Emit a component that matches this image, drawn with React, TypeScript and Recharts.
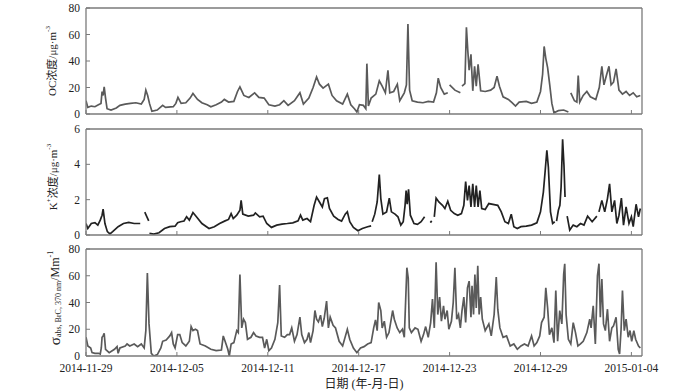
import React from 'react';
import { LineChart, Line, XAxis, YAxis } from 'recharts';

// x positions are days since 2014-11-29 00:00
const tickDays = [0, 6, 12, 18, 24, 30, 36];
const tickLabels = ['2014-11-29', '2014-12-05', '2014-12-11', '2014-12-17', '2014-12-23', '2014-12-29', '2015-01-04'];
const dayMax = 36.7;

const ocTicks = [0, 20, 40, 60, 80];
const kTicks = [0, 2, 4, 6];
const brcTicks = [0, 20, 40, 60, 80];

// OC concentration (μg·m-3): [day, value]
const ocPoints: [number, number | null][] = [
  [0, 10], [0.12, 5], [0.35, 6], [0.59, 5.5], [0.82, 7], [0.99, 8], [1.06, 17], [1.13, 14], [1.2, 20.5], [1.29, 12],
  [1.39, 4], [1.65, 3], [2.0, 4.5], [2.24, 6.5], [2.59, 7.5], [2.94, 8], [3.29, 8.5], [3.65, 7.5], [3.84, 11], [3.95, 18],
  [4.07, 14], [4.19, 8], [4.35, 2], [4.7, 3], [5.06, 6.5], [5.25, 5], [5.76, 5.5], [5.93, 8], [6.07, 12.5], [6.28, 8],
  [6.59, 8.5], [6.87, 12], [7.06, 15.5], [7.36, 11], [7.65, 8.5], [8.0, 7], [8.24, 5.5], [8.59, 7], [8.94, 9], [9.13, 11],
  [9.41, 9], [9.76, 9.5], [10.0, 17], [10.16, 20.5], [10.42, 14], [10.75, 12.5], [11.13, 16], [11.41, 12.5], [11.76, 12], [12.07, 7],
  [12.47, 6], [12.78, 7], [13.06, 10], [13.34, 6.5], [13.76, 10], [14.12, 16], [14.35, 7.5], [14.71, 12], [14.99, 20], [15.22, 28],
  [15.41, 22.5], [15.65, 19.5], [16.0, 22.5], [16.24, 14], [16.54, 10], [16.94, 7.5], [17.25, 15], [17.48, 7], [17.72, 4], [17.88, 1.5],
  [18.05, 7], [18.31, 6.5], [18.47, 4], [18.54, 38], [18.64, 6], [18.82, 12], [19.13, 15], [19.36, 25], [19.55, 21], [19.76, 16],
  [19.93, 33], [20.05, 16], [20.31, 17], [20.55, 22.5], [20.71, 10], [21.01, 16], [21.15, 22], [21.25, 68], [21.36, 18], [21.53, 10],
  [21.88, 9], [22.24, 8.5], [22.59, 9.5], [22.94, 9], [23.13, 16], [23.25, 27], [23.41, 20], [23.65, 15], [23.88, 16], [23.94, null],
  [24.0, 22], [24.35, 18], [24.71, 16], [24.76, null], [24.82, 21], [25.01, 23], [25.11, 65.5], [25.2, 48], [25.29, 33], [25.41, 45],
  [25.53, 17.5], [25.65, 36], [25.76, 21], [25.88, 37.5], [26.05, 17.5], [26.35, 17], [26.71, 18], [26.94, 20], [27.13, 28.5], [27.29, 21],
  [27.53, 13], [27.88, 11], [28.12, 8.5], [28.35, 6], [28.59, 9], [29.06, 9.5], [29.41, 8], [29.76, 9], [30.0, 17], [30.14, 30],
  [30.24, 51], [30.35, 42], [30.47, 35], [30.61, 22], [30.75, 8], [30.89, 1], [31.18, 2.5], [31.53, 3], [31.84, 1.5], [31.92, null],
  [32.0, 16], [32.24, 10], [32.4, 9], [32.49, 29], [32.59, 9], [32.82, 14], [33.06, 17], [33.29, 13], [33.65, 11], [33.88, 20],
  [34.05, 36], [34.19, 22], [34.35, 29], [34.52, 36], [34.66, 22], [34.82, 24], [34.99, 34], [35.18, 18], [35.41, 15], [35.65, 17],
  [35.88, 14], [36.12, 16], [36.35, 13], [36.59, 14],
];

// K+ concentration (μg·m-3): [day, value]
const kPoints: [number, number | null][] = [
  [0, 0.65], [0.12, 0.37], [0.35, 0.65], [0.59, 0.7], [0.78, 0.56], [0.94, 0.84], [1.06, 1.12], [1.13, 1.46], [1.25, 0.65], [1.41, 0.19],
  [1.58, 0.06], [1.76, 0.19], [2.12, 0.47], [2.47, 0.65], [2.82, 0.71], [3.18, 0.65], [3.58, 0.65], [3.7, null], [3.88, 1.3], [4.02, 1.03],
  [4.14, 0.8], [4.17, null], [4.19, 0.1], [4.47, 0.05], [4.82, 0.13], [5.18, 0.37], [5.53, 0.47], [5.88, 0.5], [6.05, 0.69], [6.24, 0.75],
  [6.47, 0.79], [6.64, 1.03], [6.82, 0.84], [7.06, 1.27], [7.29, 1.03], [7.65, 0.65], [8.12, 0.37], [8.47, 0.47], [8.82, 0.65], [9.18, 0.8],
  [9.41, 0.88], [9.58, 1.21], [9.72, 0.93], [9.95, 1.12], [10.16, 1.4], [10.24, 1.96], [10.35, 1.18], [10.71, 1.07], [11.06, 1.12], [11.18, 1.25],
  [11.46, 1.03], [11.69, 1.07], [11.93, 0.65], [12.24, 0.43], [12.59, 0.56], [12.94, 0.62], [13.29, 0.65], [13.65, 0.69], [14.0, 0.8], [14.16, 1.12],
  [14.31, 0.84], [14.59, 0.93], [14.82, 0.75], [15.06, 1.68], [15.22, 2.15], [15.41, 1.87], [15.6, 1.59], [15.74, 2.06], [15.93, 2.11], [16.07, 1.5],
  [16.35, 1.07], [16.64, 0.88], [16.87, 0.79], [17.11, 1.18], [17.25, 1.31], [17.41, 0.75], [17.65, 0.43], [17.95, 0.24], [18.24, 0.37], [18.59, 0.47],
  [18.82, 0.52], [18.86, null], [18.89, 0.75], [19.06, 1.18], [19.22, 1.87], [19.36, 3.42], [19.46, 2.06], [19.6, 1.18], [19.84, 1.31], [20.02, 2.09],
  [20.16, 1.31], [20.4, 1.18], [20.59, 1.03], [20.78, 0.56], [20.94, 0.75], [21.06, 1.68], [21.13, 2.52], [21.2, 1.74], [21.29, 2.58], [21.41, 1.12],
  [21.65, 0.65], [21.88, 0.6], [22.12, 0.75], [22.35, 1.03], [22.6, null], [22.73, 0.7], [22.82, 0.8], [22.88, null], [22.99, 1.03], [23.11, 2.09],
  [23.29, 1.87], [23.53, 1.68], [23.69, 1.5], [23.88, 1.91], [24.07, 1.4], [24.31, 1.21], [24.54, 1.12], [24.78, 1.21], [24.94, 1.68], [25.06, 3.03],
  [25.18, 1.96], [25.29, 2.8], [25.41, 1.59], [25.53, 2.9], [25.65, 1.59], [25.76, 2.8], [25.88, 1.59], [26.0, 2.52], [26.12, 1.5], [26.35, 1.44],
  [26.59, 1.78], [26.94, 1.72], [27.18, 1.68], [27.41, 1.31], [27.65, 0.75], [27.88, 0.65], [28.07, 1.18], [28.24, 0.47], [28.47, 0.37], [28.71, 0.47],
  [29.06, 0.5], [29.41, 0.56], [29.76, 0.69], [30.0, 1.31], [30.19, 2.43], [30.31, 3.64], [30.42, 4.8], [30.52, 3.83], [30.66, 1.31], [30.8, 0.65],
  [30.94, 0.75], [30.98, null], [31.06, 0.79], [31.18, 1.4], [31.28, 1.68], [31.36, 2.71], [31.46, 5.42], [31.55, 3.93], [31.62, 2.15], [31.7, null],
  [31.76, 1.07], [31.93, 0.28], [32.16, 0.56], [32.4, 0.47], [32.64, 0.65], [32.87, 0.56], [33.11, 1.07], [33.41, 0.75], [33.72, 1.07], [33.78, null],
  [33.86, 1.31], [34.05, 1.96], [34.24, 1.31], [34.42, 2.06], [34.56, 2.9], [34.71, 1.31], [34.89, 1.96], [35.04, 0.65], [35.18, 1.12], [35.34, 2.09],
  [35.48, 0.56], [35.65, 1.59], [35.84, 0.65], [36.0, 1.03], [36.12, 0.47], [36.31, 1.74], [36.47, 1.03], [36.59, 1.5],
];

// σabs,BrC,370nm (Mm-1): [day, value]
const brcPoints: [number, number | null][] = [
  [0, 14], [0.12, 7.5], [0.31, 6], [0.4, 2.5], [0.59, 2], [0.82, 2], [0.94, 1.5], [1.01, 6], [1.06, 14], [1.13, 15],
  [1.2, 17], [1.29, 5], [1.53, 2.5], [1.88, 5], [2.05, 7], [2.12, 2], [2.24, 6], [2.59, 7.5], [2.71, 9], [2.89, 7.5],
  [3.18, 9], [3.41, 7], [3.65, 9], [3.84, 6], [3.95, 19], [4.05, 62], [4.16, 24], [4.31, 2], [4.47, 0], [4.71, 1],
  [4.94, 6], [5.06, 11], [5.29, 12], [5.53, 15], [5.65, 17.5], [5.76, 9], [5.88, 6], [6.05, 16], [6.19, 16], [6.35, 10],
  [6.59, 7.5], [6.82, 11], [6.94, 22], [7.06, 19], [7.22, 20], [7.36, 19], [7.53, 9], [7.88, 7.5], [8.24, 5], [8.59, 4],
  [8.94, 4.5], [9.06, 15], [9.18, 11], [9.36, 5], [9.46, 0], [9.58, 9], [9.76, 10], [9.95, 19], [10.05, 17.5], [10.16, 61],
  [10.28, 21], [10.4, 27.5], [10.52, 25], [10.66, 12.5], [10.89, 14], [11.06, 17.5], [11.22, 15], [11.46, 14], [11.65, 14], [11.79, 6],
  [11.93, 12.5], [12.07, 4], [12.24, 6], [12.47, 12.5], [12.66, 25], [12.78, 53], [12.89, 15], [13.11, 14], [13.29, 16], [13.44, 16],
  [13.58, 21], [13.76, 11], [13.93, 16], [14.12, 29], [14.24, 16], [14.42, 10], [14.59, 12.5], [14.71, 17.5], [14.82, 10], [14.99, 19],
  [15.11, 34], [15.22, 27.5], [15.34, 25.5], [15.48, 30.5], [15.6, 22], [15.72, 28], [15.88, 41], [16.0, 21], [16.12, 29], [16.31, 23],
  [16.47, 21], [16.71, 11], [16.94, 7.5], [17.25, 20], [17.41, 12.5], [17.65, 6], [17.88, 2.5], [18.12, 6], [18.35, 7], [18.59, 9],
  [18.82, 10], [18.99, 21], [19.11, 27], [19.22, 19], [19.32, 40], [19.46, 34], [19.55, 21], [19.69, 26], [19.84, 14], [20.0, 17.5],
  [20.24, 34], [20.35, 27.5], [20.54, 21], [20.71, 17.5], [20.89, 20], [21.01, 14], [21.18, 66], [21.27, 58], [21.34, 21], [21.48, 17.5],
  [21.72, 21], [21.91, 20], [22.12, 11], [22.28, 16], [22.42, 22], [22.59, 14], [22.75, 25], [22.87, 42.5], [22.99, 21], [23.11, 70],
  [23.22, 31], [23.34, 44], [23.46, 26], [23.6, 37.5], [23.69, 27.5], [23.84, 34], [23.95, 20], [24.12, 26], [24.24, 40], [24.35, 66],
  [24.47, 27.5], [24.59, 31], [24.71, 21], [24.82, 34], [24.94, 44], [25.06, 25], [25.18, 51], [25.29, 56], [25.41, 29], [25.48, 52.5],
  [25.58, 31], [25.67, 61], [25.76, 36], [25.86, 67.5], [25.95, 31], [26.05, 44], [26.16, 27.5], [26.35, 19], [26.59, 24], [26.75, 15],
  [26.94, 31], [27.08, 59], [27.18, 35], [27.32, 21], [27.53, 14], [27.76, 15], [28.0, 7.5], [28.24, 9], [28.47, 5], [28.71, 7.5],
  [28.94, 9], [29.18, 7.5], [29.41, 15], [29.58, 7.5], [29.76, 10], [29.95, 15], [30.07, 25], [30.24, 29], [30.35, 51], [30.47, 36],
  [30.59, 16], [30.75, 21], [30.89, 10], [31.01, 49], [31.13, 11], [31.27, 34], [31.41, 24], [31.53, 61], [31.6, 69], [31.69, 31],
  [31.84, 12.5], [32.0, 9], [32.16, 25], [32.31, 17.5], [32.47, 7.5], [32.64, 9], [32.82, 11], [33.06, 17.5], [33.25, 27.5], [33.34, 21],
  [33.48, 37.5], [33.62, 9], [33.76, 60], [33.86, 69], [33.95, 29], [34.05, 57.5], [34.16, 24], [34.28, 19], [34.42, 35], [34.56, 11],
  [34.71, 21], [34.82, 22.5], [34.99, 29], [35.13, 5], [35.22, 1.5], [35.32, 20], [35.41, 49], [35.53, 19], [35.65, 27.5], [35.79, 14],
  [35.91, 19], [36.02, 11], [36.16, 19], [36.28, 12.5], [36.47, 7.5], [36.59, 6],
];

const toRows = (pts: [number, number | null][]) => pts.map(([d, v]) => ({ d, v }));

const frame = '#7a7a7a';
const tickFont = "'Liberation Serif', 'Times New Roman', serif";
const labelFont = "'Liberation Serif', 'Noto Sans CJK SC', serif";

type PanelProps = {
  top: number;
  height: number;
  bottom: number;
  points: [number, number | null][];
  yMax: number;
  yTicks: number[];
  color: string;
  showX: boolean;
};

function Panel({ top, height, bottom, points, yMax, yTicks, color, showX }: PanelProps) {
  return (
    <div style={{ position: 'absolute', left: 0, top, width: 700, height }}>
      <LineChart width={700} height={height} data={toRows(points)} margin={{ top: 7, right: 57, bottom: bottom - 1, left: 0 }}>
        <XAxis
          dataKey="d"
          type="number"
          domain={[0, dayMax]}
          ticks={tickDays}
          interval={0}
          allowDataOverflow
          height={1}
          tickSize={-4}
          tickMargin={12}
          axisLine={{ stroke: frame, strokeWidth: 1.3 }}
          tickLine={{ stroke: frame, strokeWidth: 1 }}
          tick={{ fontSize: 11.5, fill: '#222', fontFamily: tickFont }}
          tickFormatter={(v: number) => (showX ? tickLabels[tickDays.indexOf(v)] ?? '' : '')}
        />
        <XAxis
          xAxisId="top"
          orientation="top"
          dataKey="d"
          type="number"
          domain={[0, dayMax]}
          ticks={tickDays}
          allowDataOverflow
          height={1}
          tick={false}
          tickLine={false}
          axisLine={{ stroke: frame, strokeWidth: 1.3 }}
        />
        <YAxis
          type="number"
          domain={[0, yMax]}
          ticks={yTicks}
          interval={0}
          allowDataOverflow
          width={86}
          tickSize={-4}
          tickMargin={10}
          axisLine={{ stroke: frame, strokeWidth: 1.3 }}
          tickLine={{ stroke: frame, strokeWidth: 1 }}
          tick={{ fontSize: 11.5, fill: '#222', fontFamily: tickFont }}
        />
        <YAxis
          yAxisId="right"
          orientation="right"
          type="number"
          domain={[0, yMax]}
          ticks={yTicks}
          width={1}
          tick={false}
          tickLine={false}
          axisLine={{ stroke: frame, strokeWidth: 1.3 }}
        />
        <Line
          type="linear"
          dataKey="v"
          stroke={color}
          strokeWidth={1.7}
          dot={false}
          activeDot={false}
          connectNulls={false}
          isAnimationActive={false}
        />
      </LineChart>
    </div>
  );
}

export default function App() {
  return (
    <div style={{ position: 'absolute', left: 0, top: 0, width: 700, height: 391, background: '#fff', overflow: 'hidden' }}>
      <Panel top={0} height={120} bottom={6} points={ocPoints} yMax={80} yTicks={ocTicks} color="#5a5a5a" showX={false} />
      <Panel top={121} height={120} bottom={6} points={kPoints} yMax={6} yTicks={kTicks} color="#222222" showX={false} />
      <Panel top={241} height={150} bottom={35} points={brcPoints} yMax={80} yTicks={brcTicks} color="#5a5a5a" showX={true} />
      <svg width={700} height={391} style={{ position: 'absolute', left: 0, top: 0, pointerEvents: 'none' }}>
        <text transform="translate(52,61) rotate(-90)" textAnchor="middle" dominantBaseline="central" fontSize={11} fill="#222" fontFamily={labelFont}>
          OC浓度/μg·m<tspan dy={-4} fontSize={7}>-3</tspan>
        </text>
        <text transform="translate(53,177) rotate(-90)" textAnchor="middle" dominantBaseline="central" fontSize={11} fill="#222" fontFamily={labelFont}>
          K<tspan dy={-4} fontSize={7}>+</tspan><tspan dy={4}>浓度/μg·m</tspan><tspan dy={-4} fontSize={7}>-3</tspan>
        </text>
        <text transform="translate(55,298) rotate(-90)" textAnchor="middle" dominantBaseline="central" fontSize={12} fill="#222" fontFamily={labelFont}>
          <tspan fontSize={15}>σ</tspan><tspan dy={3} fontSize={8}>abs, BrC, 370 nm</tspan><tspan dy={-3}>/Mm</tspan><tspan dy={-5} fontSize={8}>-1</tspan>
        </text>
        <text x={364} y={384} textAnchor="middle" dominantBaseline="central" fontSize={12} fill="#222" fontFamily={labelFont}>
          日期 (年-月-日)
        </text>
      </svg>
    </div>
  );
}
